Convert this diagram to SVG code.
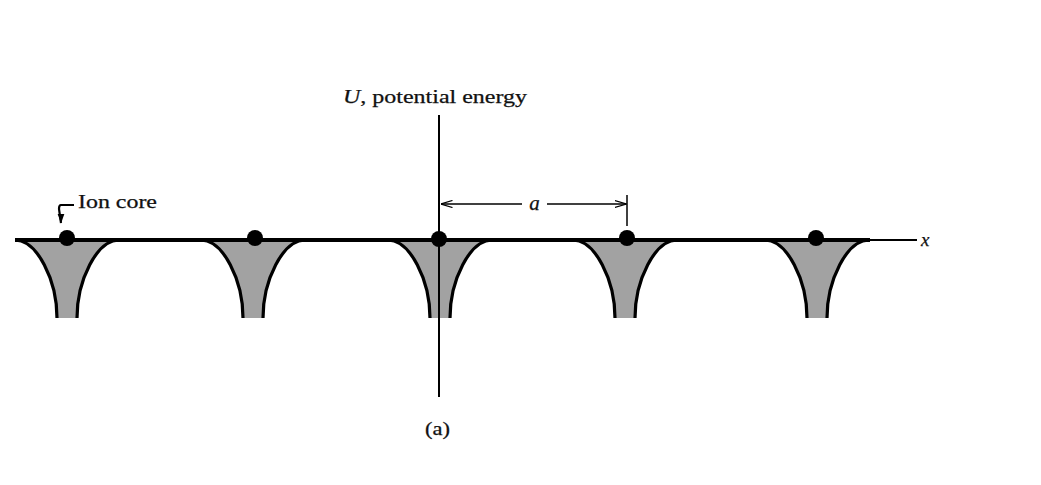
<svg xmlns="http://www.w3.org/2000/svg" width="1041" height="485" viewBox="0 0 1041 485">
<style>
.well{fill:#a2a2a2;stroke:none}
.wall{fill:none;stroke:#000;stroke-width:3.2}
.dot{fill:#000}
.t{font-family:"Liberation Serif","DejaVu Serif",serif;fill:#111;stroke:#111;stroke-width:0.25}
.ln{stroke:#000;fill:none}
</style>
<defs>
<marker id="ah" viewBox="0 0 12 8" refX="11.5" refY="4" markerWidth="12" markerHeight="8" markerUnits="userSpaceOnUse" orient="auto">
<path d="M0,0.5 L12,4 L0,7.5" fill="none" stroke="#000" stroke-width="1.3"/>
</marker>
<marker id="ah2" viewBox="0 0 8 10" refX="4" refY="9.5" markerWidth="8" markerHeight="10" markerUnits="userSpaceOnUse" orient="0">
<path d="M0.5,0 L4,10 L7.5,0 Z" fill="#000"/>
</marker>
<g id="wellshape">
<path class="well" d="M-52,240 C-30,240 -10,280 -10,318 L10,318 C10,280 30,240 52,240 Z"/>
<path class="wall" d="M-52,240 C-30,240 -10,280 -10,318"/>
<path class="wall" d="M52,240 C30,240 10,280 10,318"/>
</g>
</defs>
<rect width="1041" height="485" fill="#fff"/>
<g id="well1"><use href="#wellshape" transform="translate(67,0)"/><circle class="dot" cx="67" cy="238" r="8"/></g>
<g id="well2"><use href="#wellshape" transform="translate(253,0)"/><circle class="dot" cx="255" cy="238" r="8"/></g>
<g id="well3"><use href="#wellshape" transform="translate(440,0)"/><circle class="dot" cx="439" cy="239" r="8"/></g>
<g id="well4"><use href="#wellshape" transform="translate(625,0)"/><circle class="dot" cx="627" cy="238" r="8"/></g>
<g id="well5"><use href="#wellshape" transform="translate(817,0)"/><circle class="dot" cx="816" cy="238" r="8"/></g>
<g id="connectors">
<line class="ln" x1="15" y1="240" x2="870" y2="240" stroke-width="4"/>
<line class="ln" x1="868" y1="240" x2="917" y2="240" stroke-width="2.2"/>
<line class="ln" x1="439" y1="115" x2="439" y2="397" stroke-width="2"/>
<line class="ln" x1="522" y1="204" x2="441" y2="204" stroke-width="1.5" marker-end="url(#ah)"/>
<line class="ln" x1="547" y1="204" x2="626" y2="204" stroke-width="1.5" marker-end="url(#ah)"/>
<line class="ln" x1="627" y1="195" x2="627" y2="226" stroke-width="1.5"/>
<path class="ln" d="M74,205 L61,205 Q59,205 59,209 L61,223" stroke-width="2.2" marker-end="url(#ah2)"/>
</g>
<g id="labels">
<text class="t" x="343" y="103" font-size="19" textLength="184" lengthAdjust="spacingAndGlyphs"><tspan font-style="italic">U</tspan>, potential energy</text>
<text class="t" x="534.5" y="210" font-size="21" font-style="italic" text-anchor="middle">a</text>
<text class="t" x="78" y="208" font-size="19" textLength="79" lengthAdjust="spacingAndGlyphs">Ion core</text>
<text class="t" x="921" y="246" font-size="19" font-style="italic">x</text>
<text class="t" x="425" y="435" font-size="18" textLength="25" lengthAdjust="spacingAndGlyphs">(a)</text>
</g>
</svg>
